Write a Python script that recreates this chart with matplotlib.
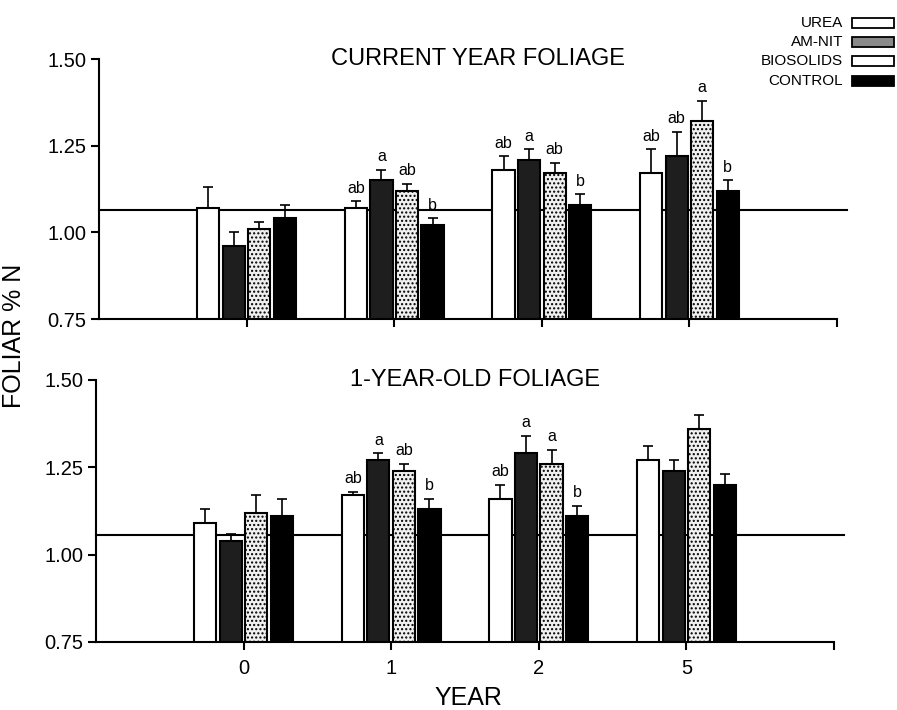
import matplotlib.pyplot as plt
from matplotlib.patches import Rectangle

plt.rcParams['font.family'] = ['Liberation Sans', 'DejaVu Sans']

# data
years = ['0', '1', '2', '5']
treatments = ['UREA', 'AM-NIT', 'BIOSOLIDS', 'CONTROL']

current_mean = [
    [1.07, 1.07, 1.18, 1.17],   # UREA
    [0.96, 1.15, 1.21, 1.22],   # AM-NIT
    [1.01, 1.12, 1.17, 1.32],   # BIOSOLIDS
    [1.04, 1.02, 1.08, 1.12],   # CONTROL
]
current_se = [
    [0.06, 0.02, 0.04, 0.07],
    [0.04, 0.03, 0.03, 0.07],
    [0.02, 0.02, 0.03, 0.06],
    [0.04, 0.02, 0.03, 0.03],
]
current_letters = [
    ['', 'ab', 'ab', 'ab'],
    ['', 'a', 'a', 'ab'],
    ['', 'ab', 'ab', 'a'],
    ['', 'b', 'b', 'b'],
]
current_ref = 1.065

old_mean = [
    [1.09, 1.17, 1.16, 1.27],
    [1.04, 1.27, 1.29, 1.24],
    [1.12, 1.24, 1.26, 1.36],
    [1.11, 1.13, 1.11, 1.20],
]
old_se = [
    [0.04, 0.01, 0.04, 0.04],
    [0.02, 0.02, 0.05, 0.03],
    [0.05, 0.02, 0.04, 0.04],
    [0.05, 0.03, 0.03, 0.03],
]
old_letters = [
    ['', 'ab', 'ab', ''],
    ['', 'a', 'a', ''],
    ['', 'ab', 'a', ''],
    ['', 'b', 'b', ''],
]
old_ref = 1.057

colors = ['white', '#1e1e1e', '#f0f0f0', 'black']
hatches = [None, None, '....', None]
legend_colors = ['white', '#8a8a8a', 'white', 'black']


def draw_panel(ax, means, ses, letters, ref, title):
    ax.plot([-1, 4.07], [ref, ref], color='black', lw=1.5, zorder=1, clip_on=False)
    width = 0.15
    step = 0.173
    for i in range(len(treatments)):
        xs = [j + (i - 1.5) * step for j in range(len(years))]
        ax.bar(xs, means[i], width=width, bottom=0, color=colors[i],
               edgecolor='black', linewidth=1.5, hatch=hatches[i], zorder=2)
        ax.errorbar(xs, means[i], yerr=[[0] * len(years), ses[i]], fmt='none',
                    ecolor='black', elinewidth=1.2, capsize=3.5, capthick=1.2, zorder=3)
        for x, m, s, lab in zip(xs, means[i], ses[i], letters[i]):
            if lab:
                ax.annotate(lab, (x, m + s), xytext=(0, 4), textcoords='offset points',
                            ha='center', va='bottom', fontsize=11.5)
    ax.set_xlim(-1, 4)
    ax.set_ylim(0.75, 1.5)
    ax.set_yticks([0.75, 1.00, 1.25, 1.50])
    ax.set_yticklabels(['0.75', '1.00', '1.25', '1.50'], fontsize=14.5)
    ax.set_xticks([0, 1, 2, 3, 4])
    ax.spines['top'].set_visible(False)
    ax.spines['right'].set_visible(False)
    ax.spines['left'].set_linewidth(1.5)
    ax.spines['bottom'].set_linewidth(1.5)
    ax.tick_params(direction='out', width=1.5, length=6, pad=3)
    ax.text(0.514, 1.0, title, transform=ax.transAxes, ha='center', va='center', fontsize=17)


fig = plt.figure(figsize=(8.97, 7.10), dpi=100)
ax1 = fig.add_axes([0.1104, 0.5507, 0.8227, 0.3662])
ax2 = fig.add_axes([0.1070, 0.0958, 0.8227, 0.3690])

draw_panel(ax1, current_mean, current_se, current_letters, current_ref, 'CURRENT YEAR FOLIAGE')
draw_panel(ax2, old_mean, old_se, old_letters, old_ref, '1-YEAR-OLD FOLIAGE')
ax1.set_xticklabels([])
ax2.set_xticklabels(years + [''], fontsize=14.5)
ax2.tick_params(axis='x', pad=6)

fig.text(468 / 897, 1 - 698 / 710, 'YEAR', ha='center', va='center', fontsize=18)
fig.text(0.016, 1 - 336 / 710, 'FOLIAR % N', ha='center', va='center', rotation=90, fontsize=18)

# legend drawn by hand: label to the left of the swatch
row_y = [23, 42, 61, 81]
for name, c, y in zip(treatments, legend_colors, row_y):
    fig.text(843 / 897, 1 - y / 710, name, ha='right', va='center', fontsize=11)
    fig.patches.append(Rectangle((852 / 897, 1 - (y + 5) / 710), 42 / 897, 10 / 710,
                                 transform=fig.transFigure, facecolor=c,
                                 edgecolor='black', linewidth=1.3))

fig.savefig('out.png', dpi=100)
